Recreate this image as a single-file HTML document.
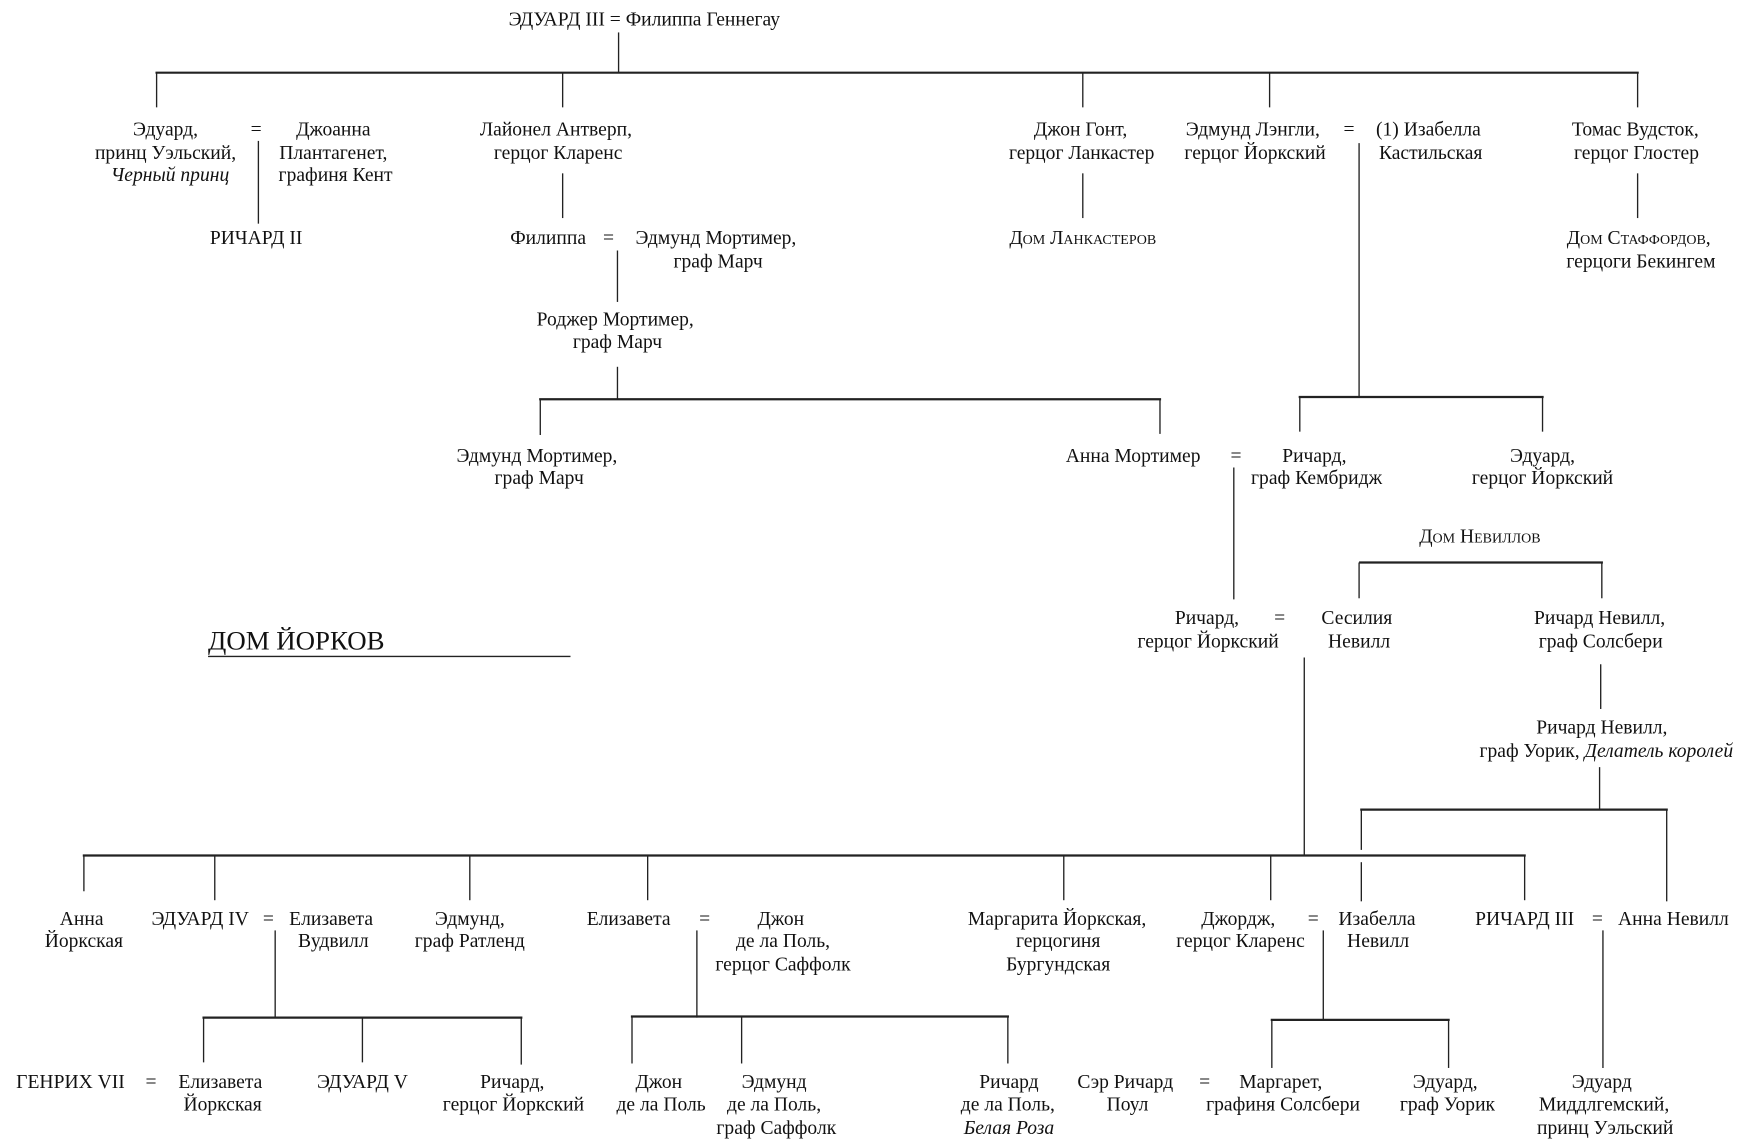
<!DOCTYPE html>
<html><head><meta charset="utf-8"><style>
html,body{margin:0;padding:0;background:#fff;}
svg{display:block}
text{font-family:"Liberation Serif",serif;font-size:17.5px;fill:#111;text-anchor:middle}
.sc{font-variant:small-caps}
.i{font-style:italic}
line{stroke:#222;stroke-width:1.2}
.t{stroke-width:2}
</style></head><body>
<svg width="1745" height="1144" viewBox="0 0 1560 1023" preserveAspectRatio="none">
<!-- top -->
<text x="576" y="23">ЭДУАРД III = Филиппа Геннегау</text>
<line x1="553" y1="29" x2="553" y2="65"/>
<line class="t" x1="139" y1="65" x2="1465" y2="65"/>
<line x1="140" y1="65" x2="140" y2="96"/>
<line x1="503" y1="65" x2="503" y2="96"/>
<line x1="968" y1="65" x2="968" y2="96"/>
<line x1="1135" y1="65" x2="1135" y2="96"/>
<line x1="1464" y1="65" x2="1464" y2="96"/>

<text x="148" y="121">Эдуард,</text>
<text x="148" y="142">принц Уэльский,</text>
<text x="152" y="162" class="i">Черный принц</text>
<text x="229" y="121">=</text>
<line x1="231" y1="126" x2="231" y2="200"/>
<text x="298" y="121">Джоанна</text>
<text x="298" y="142">Плантагенет,</text>
<text x="300" y="162">графиня Кент</text>
<text x="229" y="218">РИЧАРД II</text>

<text x="497" y="121">Лайонел Антверп,</text>
<text x="499" y="142">герцог Кларенс</text>
<line x1="503" y1="155" x2="503" y2="195"/>
<text x="490" y="218">Филиппа</text>
<text x="544" y="218">=</text>
<text x="640" y="218">Эдмунд Мортимер,</text>
<text x="642" y="239">граф Марч</text>
<line x1="552" y1="224" x2="552" y2="270"/>
<text x="550" y="291">Роджер Мортимер,</text>
<text x="552" y="311">граф Марч</text>
<line x1="552" y1="328" x2="552" y2="357"/>
<line class="t" x1="482" y1="357" x2="1038" y2="357"/>
<line x1="483" y1="357" x2="483" y2="389"/>
<line x1="1037" y1="357" x2="1037" y2="388"/>
<text x="480" y="413">Эдмунд Мортимер,</text>
<text x="482" y="433">граф Марч</text>

<text x="966" y="121">Джон Гонт,</text>
<text x="967" y="142">герцог Ланкастер</text>
<line x1="968" y1="155" x2="968" y2="195"/>
<text x="968" y="218" class="sc">Дом Ланкастеров</text>

<text x="1120" y="121">Эдмунд Лэнгли,</text>
<text x="1122" y="142">герцог Йоркский</text>
<text x="1206" y="121">=</text>
<text x="1277" y="121">(1) Изабелла</text>
<text x="1279" y="142">Кастильская</text>
<line x1="1215" y1="128" x2="1215" y2="355"/>
<line class="t" x1="1161" y1="355" x2="1380" y2="355"/>
<line x1="1162" y1="355" x2="1162" y2="386"/>
<line x1="1379" y1="355" x2="1379" y2="386"/>

<text x="1462" y="121">Томас Вудсток,</text>
<text x="1463" y="142">герцог Глостер</text>
<line x1="1464" y1="155" x2="1464" y2="195"/>
<text x="1465" y="218" class="sc">Дом Стаффордов,</text>
<text x="1467" y="239">герцоги Бекингем</text>

<text x="1013" y="413">Анна Мортимер</text>
<text x="1105" y="413">=</text>
<text x="1175" y="413">Ричард,</text>
<text x="1177" y="433">граф Кембридж</text>
<line x1="1103" y1="418" x2="1103" y2="536"/>
<text x="1379" y="413">Эдуард,</text>
<text x="1379" y="433">герцог Йоркский</text>

<text x="1323" y="485" class="sc">Дом Невиллов</text>
<line class="t" x1="1215" y1="503" x2="1433" y2="503"/>
<line x1="1215" y1="503" x2="1215" y2="535"/>
<line x1="1432" y1="503" x2="1432" y2="535"/>

<text x="1079" y="558">Ричард,</text>
<text x="1080" y="579">герцог Йоркский</text>
<text x="1144" y="558">=</text>
<text x="1213" y="558">Сесилия</text>
<text x="1215" y="579">Невилл</text>
<line x1="1166" y1="588" x2="1166" y2="765"/>

<text x="1430" y="558">Ричард Невилл,</text>
<text x="1431" y="579">граф Солсбери</text>
<line x1="1431" y1="594" x2="1431" y2="634"/>
<text x="1432" y="656">Ричард Невилл,</text>
<text x="1436" y="677">граф Уорик, <tspan class="i">Делатель королей</tspan></text>
<line x1="1430" y1="686" x2="1430" y2="724"/>
<line class="t" x1="1216" y1="724" x2="1491" y2="724"/>
<line x1="1217" y1="724" x2="1217" y2="760"/>
<line x1="1217" y1="771" x2="1217" y2="806"/>
<line x1="1490" y1="724" x2="1490" y2="806"/>

<text x="186" y="581" style="text-anchor:start;font-size:24px">ДОМ ЙОРКОВ</text>
<line x1="186" y1="587" x2="510" y2="587"/>

<line class="t" x1="74" y1="765" x2="1364" y2="765"/>
<line x1="75" y1="765" x2="75" y2="797"/>
<line x1="192" y1="765" x2="192" y2="805"/>
<line x1="420" y1="765" x2="420" y2="805"/>
<line x1="579" y1="765" x2="579" y2="805"/>
<line x1="951" y1="765" x2="951" y2="805"/>
<line x1="1136" y1="765" x2="1136" y2="805"/>
<line x1="1363" y1="765" x2="1363" y2="805"/>

<text x="73" y="827">Анна</text>
<text x="75" y="847">Йоркская</text>
<text x="179" y="827">ЭДУАРД IV</text>
<text x="240" y="827">=</text>
<text x="296" y="827">Елизавета</text>
<text x="298" y="847">Вудвилл</text>
<line x1="246" y1="832" x2="246" y2="910"/>
<text x="420" y="827">Эдмунд,</text>
<text x="420" y="847">граф Ратленд</text>
<text x="562" y="827">Елизавета</text>
<text x="630" y="827">=</text>
<text x="698" y="827">Джон</text>
<text x="700" y="847">де ла Поль,</text>
<text x="700" y="868">герцог Саффолк</text>
<line x1="623" y1="832" x2="623" y2="910"/>
<text x="945" y="827">Маргарита Йоркская,</text>
<text x="946" y="847">герцогиня</text>
<text x="946" y="868">Бургундская</text>
<text x="1107" y="827">Джордж,</text>
<text x="1109" y="847">герцог Кларенс</text>
<text x="1174" y="827">=</text>
<text x="1231" y="827">Изабелла</text>
<text x="1232" y="847">Невилл</text>
<line x1="1183" y1="832" x2="1183" y2="912"/>
<line class="t" x1="1136" y1="912" x2="1296" y2="912"/>
<line x1="1137" y1="912" x2="1137" y2="955"/>
<line x1="1295" y1="912" x2="1295" y2="955"/>
<text x="1363" y="827">РИЧАРД III</text>
<text x="1428" y="827">=</text>
<text x="1496" y="827">Анна Невилл</text>
<line x1="1433" y1="832" x2="1433" y2="955"/>

<line class="t" x1="181" y1="910" x2="467" y2="910"/>
<line x1="182" y1="910" x2="182" y2="950"/>
<line x1="324" y1="910" x2="324" y2="950"/>
<line x1="466" y1="910" x2="466" y2="952"/>
<text x="63" y="973">ГЕНРИХ VII</text>
<text x="135" y="973">=</text>
<text x="197" y="973">Елизавета</text>
<text x="199" y="993">Йоркская</text>
<text x="324" y="973">ЭДУАРД V</text>
<text x="458" y="973">Ричард,</text>
<text x="459" y="993">герцог Йоркский</text>

<line class="t" x1="564" y1="909" x2="902" y2="909"/>
<line x1="565" y1="909" x2="565" y2="951"/>
<line x1="663" y1="909" x2="663" y2="951"/>
<line x1="901" y1="909" x2="901" y2="951"/>
<text x="589" y="973">Джон</text>
<text x="591" y="993">де ла Поль</text>
<text x="692" y="973">Эдмунд</text>
<text x="692" y="993">де ла Поль,</text>
<text x="694" y="1014">граф Саффолк</text>
<text x="902" y="973">Ричард</text>
<text x="901" y="993">де ла Поль,</text>
<text x="902" y="1014" class="i">Белая Роза</text>

<text x="1006" y="973">Сэр Ричард</text>
<text x="1008" y="993">Поул</text>
<text x="1077" y="973">=</text>
<text x="1145" y="973">Маргарет,</text>
<text x="1147" y="993">графиня Солсбери</text>
<text x="1292" y="973">Эдуард,</text>
<text x="1294" y="993">граф Уорик</text>
<text x="1432" y="973">Эдуард</text>
<text x="1434" y="993">Миддлгемский,</text>
<text x="1435" y="1014">принц Уэльский</text>
</svg>
</body></html>
